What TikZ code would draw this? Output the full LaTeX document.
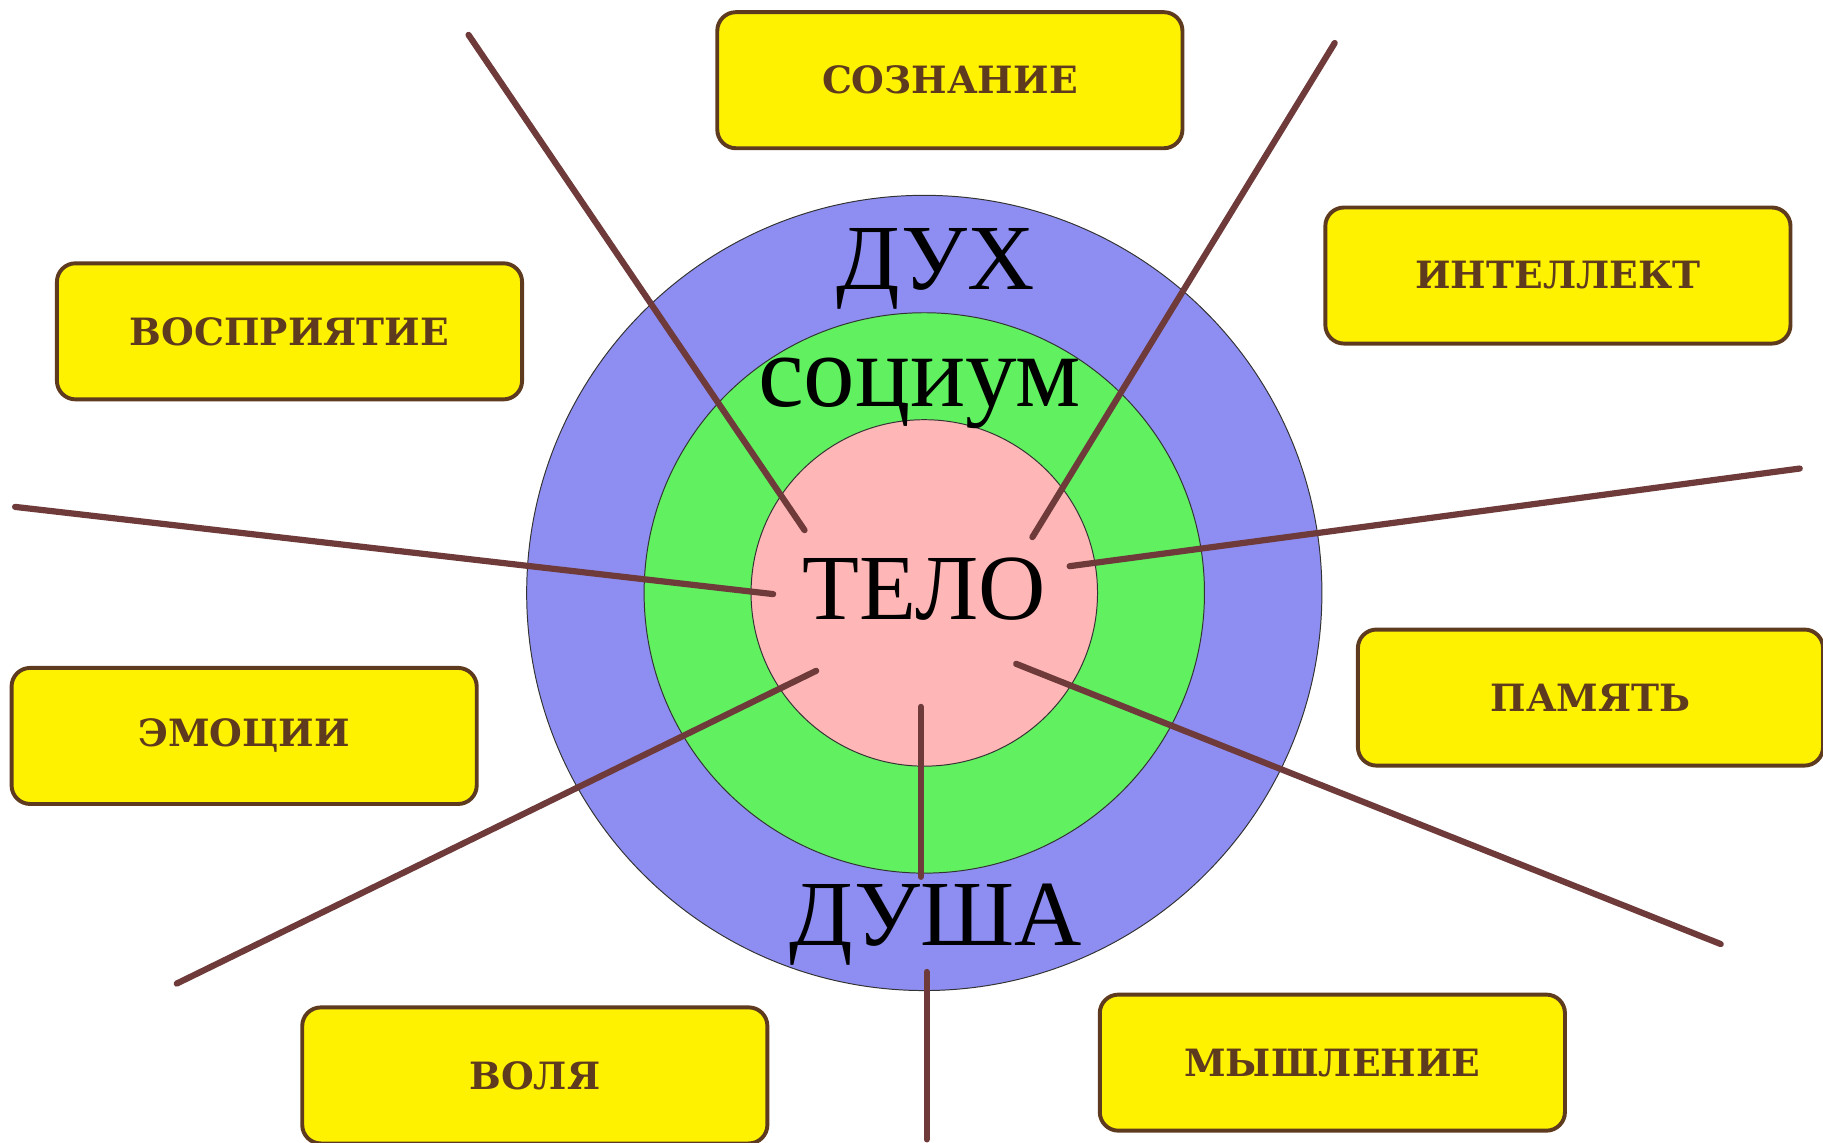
\documentclass[tikz,border=0pt]{standalone}
\usepackage{fontspec}
\setmainfont{Liberation Serif}
\newfontfamily\boxfont{DejaVu Serif}
\usepackage{xcolor}
\usepackage{tikz}

\definecolor{ringblue}{HTML}{8E8EF2}
\definecolor{ringgreen}{HTML}{60F060}
\definecolor{ringpink}{HTML}{FFB6B6}
\definecolor{boxyellow}{HTML}{FFF200}
\definecolor{boxbrown}{HTML}{5E3A1E}
\definecolor{spoke}{HTML}{6E3A3A}

\begin{document}
\begin{tikzpicture}[x=0.025cm, y=-0.025cm,
	ring/.style={draw=black!80, line width=0.6pt},
	word/.style={anchor=base, inner sep=4pt, font=\fontsize{57}{60}\selectfont},
	field/.style={rectangle, rounded corners=0.4cm, draw=boxbrown, line width=2.4pt, fill=boxyellow,
		minimum width=10cm, minimum height=2.925cm, text=boxbrown, font=\boxfont\bfseries\fontsize{23}{26}\selectfont},
	spokeline/.style={draw=spoke, line width=3.8pt, line cap=round}]
	\useasboundingbox (0,0) rectangle (1568,983);
	\clip (0,0) rectangle (1568,983);

	% rings
	\filldraw[ring, fill=ringblue] (795,510) circle (342);
	\filldraw[ring, fill=ringgreen] (795,510) circle (241);
	\filldraw[ring, fill=ringpink] (795,510) circle (149);

	\node[word](dukh) at (805,249){ДУХ};
	\node[word, font=\fontsize{63}{66}\selectfont](socium) at (791,350){социум};
	\node[word](telo) at (795,533){ТЕЛО};
	\node[word](dusha) at (805,813){ДУША};

	% fields
	\node[field](soznanie) at (817,69){СОЗНАНИЕ};
	\node[field](intellekt) at (1340,237){ИНТЕЛЛЕКТ};
	\node[field](vospr) at (249,285){ВОСПРИЯТИЕ};
	\node[field](pamyat) at (1368,600){ПАМЯТЬ};
	\node[field](emocii) at (210,633){ЭМОЦИИ};
	\node[field](volya) at (460,925){ВОЛЯ};
	\node[field](myshl) at (1146,914){МЫШЛЕНИЕ};

	% spokes
	\coordinate(o1) at (403,30);
	\coordinate(i1) at (692,456);
	\coordinate(o2) at (1148,37);
	\coordinate(i2) at (888,462);
	\coordinate(o3) at (13,436);
	\coordinate(i3) at (665,511);
	\coordinate(o4) at (1548,403);
	\coordinate(i4) at (920,487);
	\coordinate(o5) at (152,846);
	\coordinate(i5) at (702,577);
	\coordinate(i6) at (792,608);
	\coordinate(o6) at (797,980);
	\coordinate(i7) at (874,571);
	\coordinate(o7) at (1480,812);

	\draw[spokeline] (o1) -- (i1);
	\draw[spokeline] (o2) -- (i2);
	\draw[spokeline] (o3) -- (i3);
	\draw[spokeline] (o4) -- (i4);
	\draw[spokeline] (o5) -- (i5);
	\draw[spokeline] (i6) -- (i6 |- dusha.north);
	\draw[spokeline] (o6 |- dusha.south) -- (o6);
	\draw[spokeline] (i7) -- (o7);
\end{tikzpicture}
\end{document}
